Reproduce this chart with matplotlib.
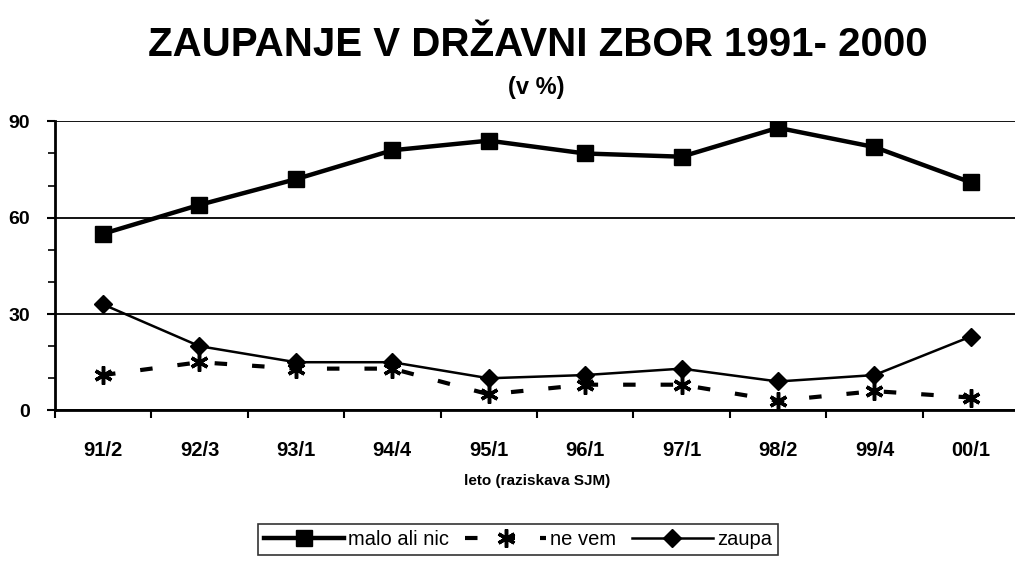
import matplotlib.pyplot as plt
import numpy as np

plt.rcParams['font.family'] = ['Liberation Sans', 'DejaVu Sans']

#Survey waves and series values (in %)
waves = ['91/2', '92/3', '93/1', '94/4', '95/1', '96/1', '97/1', '98/2', '99/4', '00/1']
maloAliNic = [55, 64, 72, 81, 84, 80, 79, 88, 82, 71]
neVem = [11, 15, 13, 13, 5, 8, 8, 3, 6, 4]
zaupa = [33, 20, 15, 15, 10, 11, 13, 9, 11, 23]

fig = plt.figure(figsize=(10.15, 5.78), dpi=100)
ax = fig.add_axes([0.054, 0.29, 0.95, 0.50])

x = np.arange(len(waves))

#Plot Data
ax.plot(x, maloAliNic, color='black', lw=3.2, marker='s', ms=12, label='malo ali nic')
ax.plot(x, neVem, color='black', lw=3, dashes=[3, 6], marker=(6, 2, 0), ms=13, mew=2.5,
        label='ne vem')
ax.plot(x, zaupa, color='black', lw=1.8, marker='D', ms=9, label='zaupa')

#Axes styling
ax.set_xlim(-0.5, len(waves) - 0.5)
ax.set_ylim(0, 90)
ax.set_yticks([0, 30, 60, 90])
ax.set_yticks(np.arange(0, 91, 10), minor=True)
ax.yaxis.grid(True, color='black', lw=1.3)
ax.set_axisbelow(True)
for s in ['top', 'right']:
    ax.spines[s].set_visible(False)
ax.spines['left'].set_linewidth(2)
ax.spines['bottom'].set_linewidth(2)
ax.set_xticks(np.arange(len(waves) + 1) - 0.5)
ax.set_xticklabels([])
ax.set_xticks(x, minor=True)
ax.set_xticklabels(waves, minor=True, fontsize=14.5, fontweight='bold')
ax.tick_params(axis='x', which='minor', length=0, pad=22)
ax.tick_params(axis='x', which='major', length=6, width=1.5, direction='out')
ax.tick_params(axis='y', which='major', length=6, width=1.5, labelsize=14, pad=12)
ax.tick_params(axis='y', which='minor', length=5, width=1.2)
for t in ax.get_yticklabels():
    t.set_fontweight('bold')
ax.set_xlabel('leto (raziskava SJM)', fontsize=11, fontweight='bold', labelpad=10)

#Titles
fig.text(0.53, 0.922, 'ZAUPANJE V DRŽAVNI ZBOR 1991- 2000', ha='center', va='center',
         fontsize=29, fontweight='bold')
fig.text(0.528, 0.848, '(v %)', ha='center', va='center', fontsize=17, fontweight='bold')

leg = fig.legend(loc='center', bbox_to_anchor=(0.51, 0.067), ncol=3, frameon=True,
                 fancybox=False, edgecolor='black', fontsize=14.5, handlelength=4,
                 handletextpad=0.2, columnspacing=0.8, borderpad=0.3)
leg.get_frame().set_linewidth(1.2)

fig.savefig('out.png', dpi=100)
